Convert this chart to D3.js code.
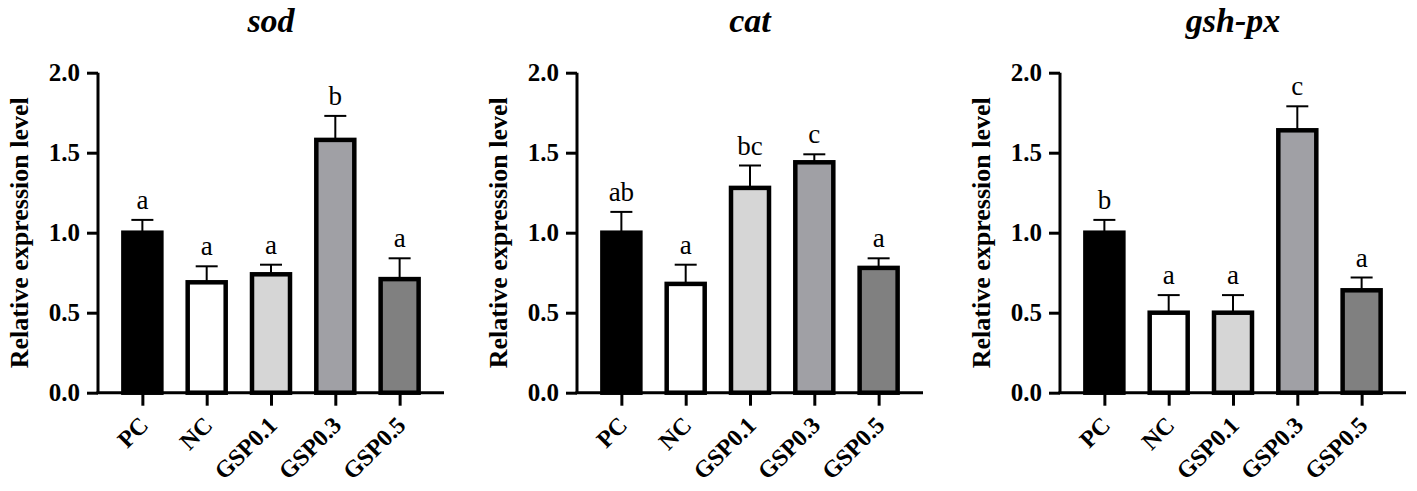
<!DOCTYPE html>
<html>
<head>
<meta charset="utf-8">
<script src="https://cdn.jsdelivr.net/npm/d3@7"></script>
<style>
  html, body { margin: 0; padding: 0; background: #fff; }
  svg text { font-family: "Liberation Serif", "Times New Roman", serif; }
</style>
</head>
<body>
<svg id="chart" width="1417" height="491"></svg>
<script>
// ---- data ----
const categories = ["PC", "NC", "GSP0.1", "GSP0.3", "GSP0.5"];
const genes = ["sod", "cat", "gsh-px"];
const sodMean = [1.00, 0.69, 0.74, 1.58, 0.71];
const sodErr  = [0.08, 0.10, 0.06, 0.15, 0.13];
const sodLetters = ["a", "a", "a", "b", "a"];
const catMean = [1.00, 0.68, 1.28, 1.44, 0.78];
const catErr  = [0.13, 0.12, 0.14, 0.05, 0.06];
const catLetters = ["ab", "a", "bc", "c", "a"];
const gshMean = [1.00, 0.50, 0.50, 1.64, 0.64];
const gshErr  = [0.08, 0.11, 0.11, 0.15, 0.08];
const gshLetters = ["b", "a", "a", "c", "a"];
const yTicks = [0.0, 0.5, 1.0, 1.5, 2.0];
const barColors = ["#000000", "#ffffff", "#d6d6d6", "#a0a0a5", "#808080"];
const yLabel = "Relative expression level";

const panels = [
  { title: genes[0], mean: sodMean, err: sodErr, letters: sodLetters },
  { title: genes[1], mean: catMean, err: catErr, letters: catLetters },
  { title: genes[2], mean: gshMean, err: gshErr, letters: gshLetters }
];

// ---- layout ----
const axisXs = [98, 577, 1060];
const plotW = 346;
const yTop = 72.7, yBottom = 392.7;
const barW = 38;
const FONT = "'Liberation Serif', 'Times New Roman', serif";

const svg = d3.select("#chart");
const y = d3.scaleLinear().domain([0, 2]).range([yBottom, yTop]);

panels.forEach((p, pi) => {
  const g = svg.append("g").attr("transform", `translate(${axisXs[pi]},0)`);
  const x = d3.scalePoint().domain(categories).range([0, plotW]).padding(0.69);

  // title
  g.append("text")
    .attr("x", plotW / 2).attr("y", 32)
    .attr("text-anchor", "middle")
    .style("font-size", "34px").style("font-weight", "bold").style("font-style", "italic")
    .text(p.title);

  // y label
  g.append("text")
    .attr("transform", `translate(-70,${(yTop + yBottom) / 2}) rotate(-90)`)
    .attr("text-anchor", "middle")
    .style("font-size", "26px").style("font-weight", "bold")
    .text(yLabel);

  const data = categories.map((c, i) => ({ c, v: p.mean[i], e: p.err[i], l: p.letters[i], col: barColors[i] }));

  // error bars (upper whisker only)
  const eb = g.append("g");
  data.forEach(d => {
    const cx = x(d.c);
    eb.append("line").attr("x1", cx).attr("x2", cx).attr("y1", y(d.v)).attr("y2", y(d.v + d.e))
      .attr("stroke", "#000").attr("stroke-width", 2);
    eb.append("line").attr("x1", cx - 11).attr("x2", cx + 11).attr("y1", y(d.v + d.e)).attr("y2", y(d.v + d.e))
      .attr("stroke", "#000").attr("stroke-width", 2);
  });

  // bars
  g.append("g").selectAll("rect").data(data).join("rect")
    .attr("x", d => x(d.c) - barW / 2)
    .attr("y", d => y(d.v))
    .attr("width", barW)
    .attr("height", d => y(0) - y(d.v))
    .attr("fill", d => d.col)
    .attr("stroke", "#000")
    .attr("stroke-width", 4.5);

  // letters
  g.append("g").selectAll("text").data(data).join("text")
    .attr("x", d => x(d.c))
    .attr("y", d => y(d.v + d.e) - 11)
    .attr("text-anchor", "middle")
    .style("font-size", "27px")
    .text(d => d.l);

  // y axis
  const yAxis = d3.axisLeft(y).tickValues(yTicks).tickFormat(d3.format(".1f")).tickSize(11).tickPadding(7);
  const ya = g.append("g").call(yAxis);
  ya.select(".domain").attr("stroke-width", 3).attr("d", `M0,${yTop}V${yBottom}`);
  ya.selectAll(".tick line").attr("stroke-width", 3);
  ya.selectAll(".tick text").style("font-size", "25px").style("font-weight", "bold")
    .style("font-family", FONT);

  // x axis
  const xAxis = d3.axisBottom(x).tickSize(13).tickPadding(4);
  const xa = g.append("g").attr("transform", `translate(0,${yBottom})`).call(xAxis);
  xa.select(".domain").attr("stroke-width", 3).attr("d", `M-1.5,0H${plotW}`);
  xa.selectAll(".tick line").attr("stroke-width", 3);
  xa.selectAll(".tick text")
    .style("font-size", "24px").style("font-weight", "bold")
    .style("font-family", FONT)
    .attr("text-anchor", "end")
    .attr("dy", "0.35em")
    .attr("transform", "translate(1,28) rotate(-45)")
    .attr("y", 0).attr("x", 0);
});
</script>
</body>
</html>
